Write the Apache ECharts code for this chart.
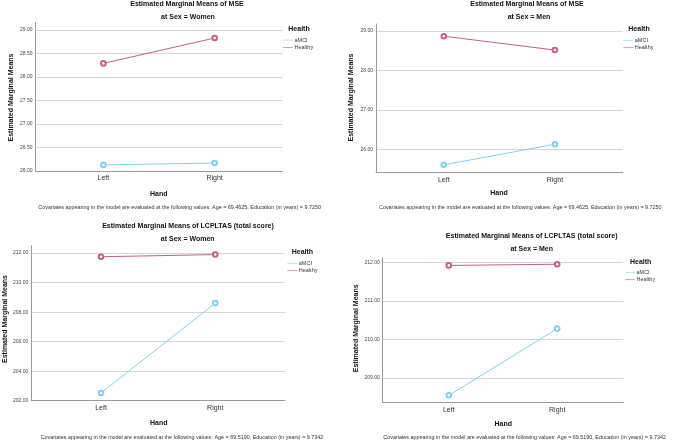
<!DOCTYPE html>
<html>
<head>
<meta charset="utf-8">
<script src="https://cdn.jsdelivr.net/npm/echarts@6/dist/echarts.min.js"></script>
<style>
html,body{margin:0;padding:0;background:#fff;}
#c{width:681px;height:442px;}
</style>
</head>
<body>
<div id="c"></div>
<script>
// ---- data ----
const categories = ['Left', 'Right'];
const groups = ['aMCI', 'Healthy'];
const mseWomen_aMCI = [26.13, 26.17];
const mseWomen_Healthy = [28.29, 28.83];
const mseMen_aMCI = [25.61, 26.13];
const mseMen_Healthy = [28.87, 28.52];
const lcpWomen_aMCI = [202.52, 208.61];
const lcpWomen_Healthy = [211.75, 211.90];
const lcpMen_aMCI = [208.55, 210.28];
const lcpMen_Healthy = [211.92, 211.95];
const titles = ['Estimated Marginal Means of MSE', 'Estimated Marginal Means of MSE',
  'Estimated Marginal Means of LCPLTAS (total score)', 'Estimated Marginal Means of LCPLTAS (total score)'];
const subtitles = ['at Sex = Women', 'at Sex = Men', 'at Sex = Women', 'at Sex = Men'];
const notes = [
  'Covariates appearing in the model are evaluated at the following values: Age = 69.4625, Education (in years) = 9.7250',
  'Covariates appearing in the model are evaluated at the following values: Age = 69.4625, Education (in years) = 9.7250',
  'Covariates appearing in the model are evaluated at the following values: Age = 69.5190, Education (in years) = 9.7342',
  'Covariates appearing in the model are evaluated at the following values: Age = 69.5190, Education (in years) = 9.7342'
];
const yTickStep = [0.5, 1, 2, 1];
const yRanges = [[26, 29.16], [25.42, 29.18], [202, 212.5], [208.36, 212.12]];
const panelData = [
  [mseWomen_aMCI, mseWomen_Healthy],
  [mseMen_aMCI, mseMen_Healthy],
  [lcpWomen_aMCI, lcpWomen_Healthy],
  [lcpMen_aMCI, lcpMen_Healthy]
];

// ---- layout ----
const FONT = "'Liberation Sans', Arial, sans-serif";
const colors = ['#80d0f4', '#c65f80'];
const grids = [
  {left: 35.5, top: 22.5, width: 247, height: 148.5},
  {left: 376, top: 24, width: 246.7, height: 148.3},
  {left: 31.3, top: 245.7, width: 253.7, height: 155},
  {left: 382.7, top: 257.7, width: 240.6, height: 145}
];
const titlePos = [[187, 4.5, 188, 17], [527, 4.5, 529, 17.3], [188, 225.7, 187.7, 239.3], [531.7, 236, 531.7, 249.3]];
const yNamePos = [[11, 97.5], [351, 97.5], [4.8, 319], [355.7, 328.3]];
const xNamePos = [[158.7, 193.7], [499, 193.3], [158.7, 423.3], [503.3, 424]];
const notePos = [[38.3, 207.3], [379, 207.3], [40.7, 437.7], [383.3, 437.7]];
const legendHead = [[288.3, 29], [628.3, 29.5], [291.7, 252], [630, 261.7]];
const legendPos = [[283, 36.8], [623.3, 37], [287.3, 260], [625, 269]];

const xAxes = [], yAxes = [], series = [], legends = [], graphics = [];
for (let i = 0; i < 4; i++) {
  const step = yTickStep[i];
  xAxes.push({
    gridIndex: i, type: 'value', min: -0.61, max: 1.61, minInterval: 1, maxInterval: 1,
    axisLine: {show: true, onZero: false, lineStyle: {color: '#9a9a9a', width: 1}},
    axisTick: {show: false}, splitLine: {show: false},
    axisLabel: {
      margin: 4, fontSize: 7, color: '#333', fontFamily: FONT,
      formatter: v => (Math.abs(v - Math.round(v)) < 1e-6 && categories[Math.round(v)]) ? categories[Math.round(v)] : ''
    }
  });
  const yo = {
    gridIndex: i, type: 'value', min: yRanges[i][0], max: yRanges[i][1],
    axisLine: {show: true, onZero: false, lineStyle: {color: '#9a9a9a', width: 1}},
    axisTick: {show: false},
    splitLine: {show: true, showMinLine: false, showMaxLine: false, lineStyle: {color: '#d6d6d6', width: 1}},
    axisLabel: {
      margin: 3, fontSize: 5, color: '#444', fontFamily: FONT,
      formatter: v => (Math.abs(v / step - Math.round(v / step)) < 1e-6) ? v.toFixed(2) : ''
    }
  };
  if (i === 0 || i === 2) { yo.interval = step; }
  else { yo.minInterval = step; yo.maxInterval = step; }
  yAxes.push(yo);
  for (let g = 0; g < 2; g++) {
    series.push({
      name: groups[g], type: 'line', xAxisIndex: i, yAxisIndex: i,
      data: panelData[i][g].map((v, k) => [k, v]),
      symbol: 'emptyCircle', symbolSize: 4.6, showSymbol: true,
      lineStyle: {color: colors[g], width: 1},
      itemStyle: {color: colors[g], borderWidth: 0.6},
      emphasis: {disabled: true}, animation: false, z: 3 + g
    });
  }
  legends.push({
    left: legendPos[i][0], top: legendPos[i][1], orient: 'vertical', padding: 0,
    itemWidth: 10, itemHeight: 6.5, itemGap: 1, selectedMode: false,
    icon: 'path://M0,47 L100,47 L100,53 L0,53 Z', data: groups,
    textStyle: {fontSize: 5.5, lineHeight: 6.5, color: '#333', fontFamily: FONT, padding: [0, 0, 0, -3.5]}
  });
  graphics.push(
    {type: 'text', x: titlePos[i][0], y: titlePos[i][1], style: {text: titles[i], align: 'center', verticalAlign: 'middle', font: 'bold 7px ' + FONT, fill: '#111'}},
    {type: 'text', x: titlePos[i][2], y: titlePos[i][3], style: {text: subtitles[i], align: 'center', verticalAlign: 'middle', font: 'bold 7px ' + FONT, fill: '#111'}},
    {type: 'text', x: yNamePos[i][0], y: yNamePos[i][1], rotation: Math.PI / 2, style: {text: 'Estimated Marginal Means', align: 'center', verticalAlign: 'middle', font: 'bold 7px ' + FONT, fill: '#111'}},
    {type: 'text', x: xNamePos[i][0], y: xNamePos[i][1], style: {text: 'Hand', align: 'center', verticalAlign: 'middle', font: 'bold 7px ' + FONT, fill: '#111'}},
    {type: 'text', x: notePos[i][0], y: notePos[i][1], style: {text: notes[i], align: 'left', verticalAlign: 'middle', font: '5.4px ' + FONT, fill: '#333'}},
    {type: 'text', x: legendHead[i][0], y: legendHead[i][1], style: {text: 'Health', align: 'left', verticalAlign: 'middle', font: 'bold 7px ' + FONT, fill: '#111'}}
  );
}

const chart = echarts.init(document.getElementById('c'), null, {renderer: 'canvas'});
chart.setOption({
  animation: false,
  backgroundColor: '#fff',
  grid: grids.map(g => Object.assign({containLabel: false}, g)),
  xAxis: xAxes,
  yAxis: yAxes,
  legend: legends,
  series: series,
  graphic: graphics
});
</script>
</body>
</html>
